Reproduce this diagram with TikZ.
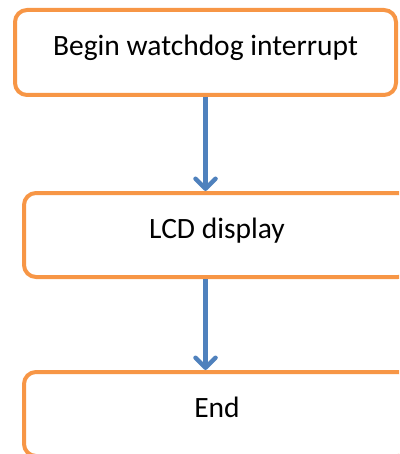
\documentclass[tikz,border=0pt]{standalone}
\usepackage{fontspec}
\setmainfont{Carlito}
\usetikzlibrary{arrows.meta}
\definecolor{boxorange}{HTML}{F79646}
\definecolor{flowblue}{HTML}{4F81BD}
\begin{document}
\begin{tikzpicture}[x=1pt,y=-1pt,
  stepbox/.style={draw=boxorange, line width=4pt, rounded corners=12pt,
    fill=white, font=\fontsize{29.5}{35}\selectfont,
    text height=22pt, text depth=15pt, inner sep=0pt},
  flow/.style={draw=flowblue, line width=4.5pt,
    -{Straight Barb[length=10pt,width=20pt,line width=4.5pt,round]}}]
  \useasboundingbox (0,0) rectangle (399,454);
  \clip (0,0) rectangle (399,454);
  % the three steps of the watchdog routine
  \node[stepbox, minimum width=381pt, minimum height=85pt] (begin) at (205.5,52.5) {Begin watchdog interrupt};
  \node[stepbox, minimum width=386pt, minimum height=84pt] (lcd) at (217,235) {LCD display};
  \node[stepbox, minimum width=386pt, minimum height=84pt] (end) at (217,414) {End};
  % connectors
  \draw[flow] (begin.south) -- (begin.south |- lcd.north);
  \draw[flow] (begin.south |- lcd.south) -- (begin.south |- end.north);
\end{tikzpicture}
\end{document}
